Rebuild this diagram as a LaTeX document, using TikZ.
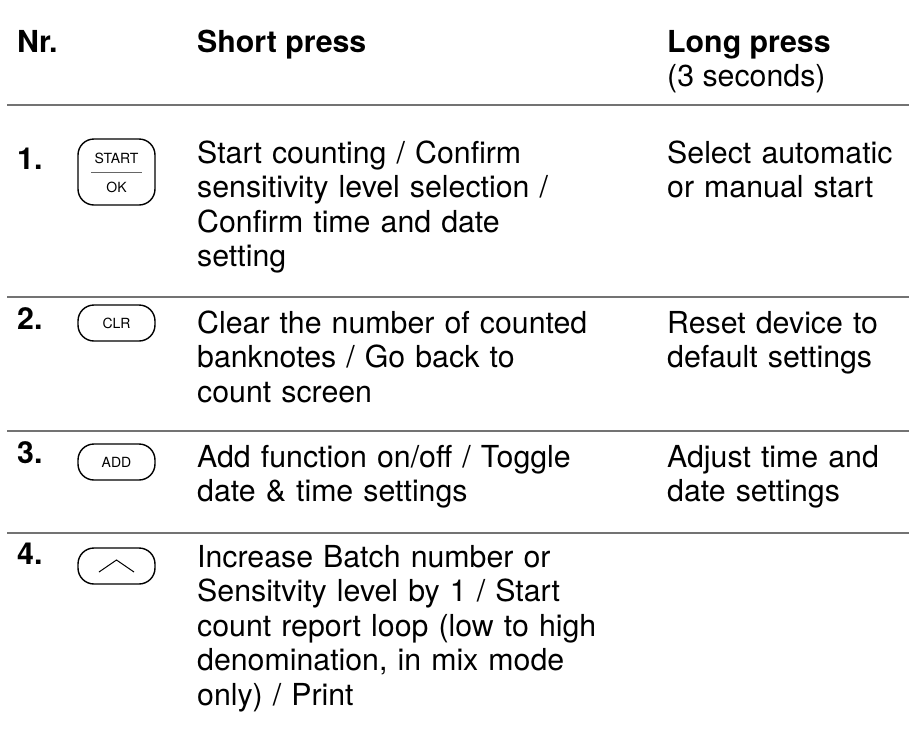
\documentclass[tikz,border=0pt]{standalone}
\usepackage{fontspec}
\setmainfont{TeX Gyre Heros}

\tikzset{
  txt/.style={anchor=base west,inner sep=0pt,align=left,font=\fontsize{30.3}{34.5}\selectfont},
  hd/.style={txt,font=\fontsize{30.3}{34.5}\selectfont\bfseries},
  shorttxt/.style={txt,text width=450pt},
  longtxt/.style={txt,text width=242pt},
  btn/.style={draw,line width=1.4pt,rounded corners=16pt,minimum width=77pt,minimum height=36pt,inner sep=0pt},
  key/.style={inner sep=0pt,font=\fontsize{14}{14}\selectfont},
  sep/.style={draw=black!55,line width=1.5pt}
}

\begin{document}
\begin{tikzpicture}[x=1pt,y=-1pt]
\useasboundingbox (0,0) rectangle (909,731);
% head
\node[hd] (nr) at (17,52) {Nr.};
\node[hd] (short) at (197,52) {Short press};
\node[hd] (long) at (667,52) {Long press};
\node[txt] (secs) at (667,86) {(3 seconds)};
\draw[sep] (7,105) -- (909,105);
% row 1
\node[hd] (n1) at (17,169) {1.};
\draw[line width=1.4pt,rounded corners=16pt] (78,139) rectangle (155,205);
\draw[black!60,line width=1pt] (91,172) -- (142,172);
\node[key] (start) at (116.5,158) {START};
\node[key] (ok) at (116.5,187) {OK};
\node[shorttxt] (s1) at (197,163) {Start counting / Confirm\\sensitivity level selection /\\Confirm time and date\\setting};
\node[longtxt] (l1) at (667,163) {Select automatic\\or manual start};
\draw[sep] (7,297) -- (909,297);
% row 2
\node[hd] (n2) at (17,329) {2.};
\node[btn] (clr) at (116.5,323) {};
\node[key] at (clr) {CLR};
\node[shorttxt] (s2) at (197,333) {Clear the number of counted\\banknotes / Go back to\\count screen};
\node[longtxt] (l2) at (667,333) {Reset device to\\default settings};
\draw[sep] (7,431) -- (909,431);
% row 3
\node[hd] (n3) at (17,463) {3.};
\node[btn] (add) at (116.5,462) {};
\node[key] at (add) {ADD};
\node[shorttxt] (s3) at (197,467) {Add function on/off / Toggle\\date \& time settings};
\node[longtxt] (l3) at (667,467) {Adjust time and\\date settings};
\draw[sep] (7,533) -- (909,533);
% row 4
\node[hd] (n4) at (17,564) {4.};
\node[btn] (up) at (116.5,566) {};
\draw[line width=1pt] (99,572) -- (116.5,560) -- (134,572);
\node[shorttxt] (s4) at (197,567) {Increase Batch number or\\Sensitvity level by 1 / Start\\count report loop (low to high\\denomination, in mix mode\\only) / Print};
\end{tikzpicture}
\end{document}
